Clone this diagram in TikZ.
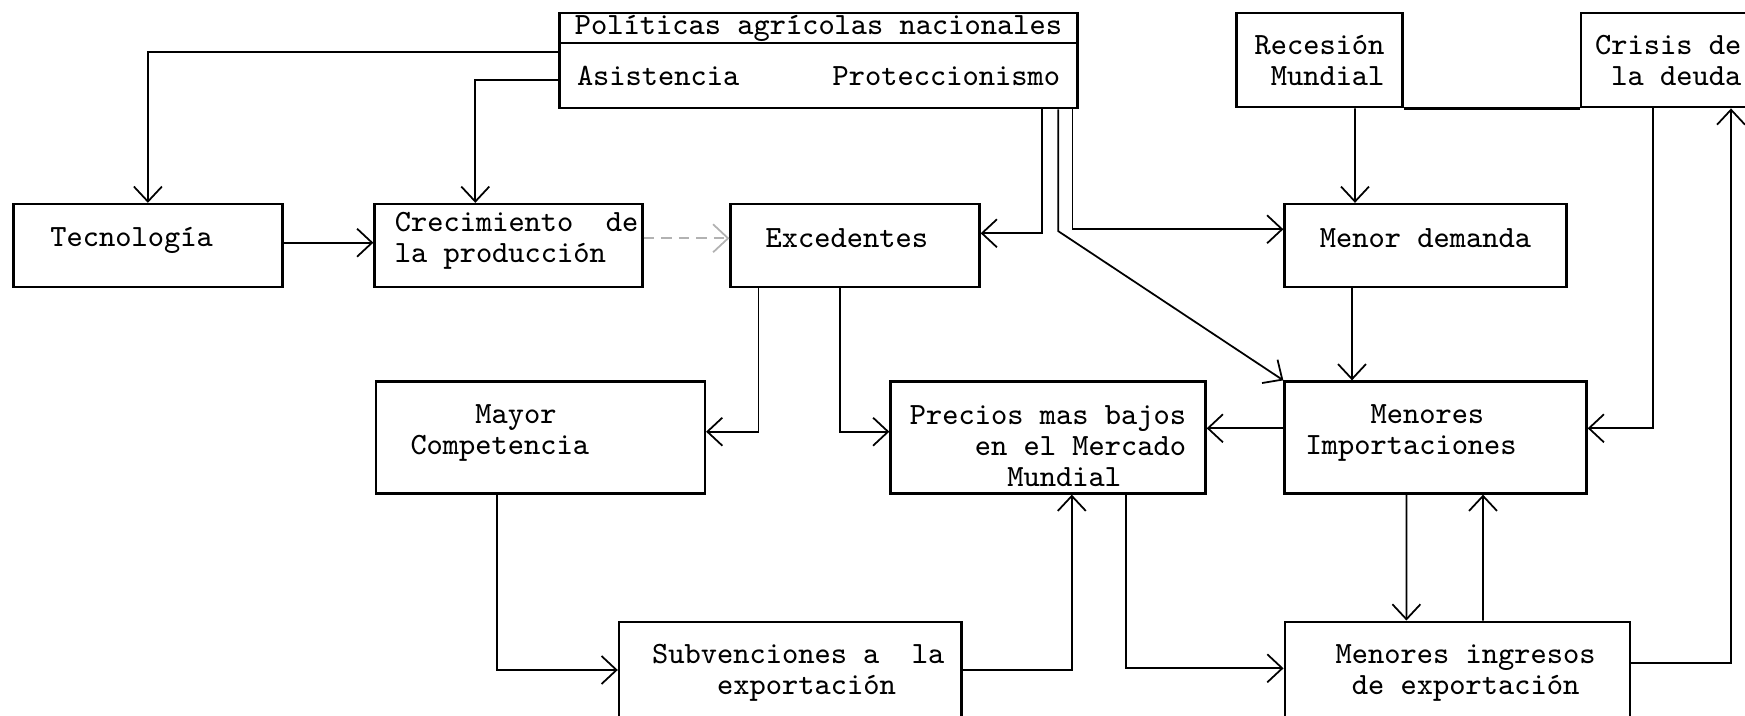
\documentclass[tikz,border=0pt]{standalone}
\usetikzlibrary{arrows.meta}

\begin{document}
\begin{tikzpicture}[
    x=0.1mm, y=-0.1mm,
    font=\ttfamily\fontsize{8.8}{8.8}\selectfont,
    box/.style={rectangle,draw,line width=0.65pt,inner sep=0pt},
    arr/.style={line width=0.5pt,-{Straight Barb[length=1.5mm,width=2.8mm]}},
    faint/.style={arr,draw=gray!60,densely dashed},
]
\useasboundingbox (0,0) rectangle (1745,716);
\clip (0,0) rectangle (1745,716);

% top row
\node[box,minimum width=51.8mm,minimum height=3mm] (pol) at (818.5,28.3) {Políticas agrícolas nacionales};
\node[box,minimum width=51.8mm,minimum height=6.5mm,text width=48.3mm] (inst) at (818.5,75.8) {Asistencia\hfill Proteccionismo};
\node[box,minimum width=16.6mm,minimum height=9.4mm,align=left] (rec) at (1319.5,60.3) {Recesión\\\hphantom{x}Mundial};
\node[box,minimum width=17.5mm,minimum height=9.4mm,align=left] (cri) at (1668.2,60.3) {Crisis de\\\hphantom{x}la deuda};

% second row
\node[box,minimum width=26.9mm,minimum height=8.3mm,text depth=5.1pt] (tec) at (147.9,245.5) {Tecnología\hphantom{xx}};
\node[box,minimum width=26.8mm,minimum height=8.3mm,align=left,text depth=4.4pt] (cre) at (508.5,245.5) {\hphantom{x}Crecimiento\ \ de\\\hphantom{x}la producción};
\node[box,minimum width=24.9mm,minimum height=8.3mm,text depth=4.3pt] (exc) at (855,245.5) {Excedentes\hphantom{x}};
\node[box,minimum width=28.2mm,minimum height=8.3mm,text depth=4.3pt] (dem) at (1425.5,245.5) {Menor demanda};

% third row
\node[box,minimum width=32.9mm,minimum height=11.2mm,align=left,text depth=4.7pt] (may) at (540.4,437.5) {\hphantom{xxxx}Mayor\\Competencia\hphantom{xxxxx}};
\node[box,minimum width=31.5mm,minimum height=11.2mm,align=left,text height=27.7pt] (pre) at (1048,437.5) {Precios mas bajos\\\hphantom{xxxx}en el Mercado\\\hphantom{xxxxxx}Mundial};
\node[box,minimum width=30.2mm,minimum height=11.2mm,align=left,text depth=4.7pt] (imp) at (1435.5,437.5) {\hphantom{xxxx}Menores\\Importaciones\hphantom{xxx}};

% bottom row
\node[box,minimum width=34.25mm,minimum height=11.2mm,align=center,text depth=4.7pt] (sub) at (790.2,677.7) {\hphantom{x}Subvenciones a\ \ la\\\hphantom{xx}exportación};
\node[box,minimum width=34.56mm,minimum height=11.2mm,align=center,text depth=4.7pt] (ing) at (1457.5,677.7) {\hphantom{x}Menores ingresos\\\hphantom{x}de exportación};

% connectors
\draw[arr] ([yshift=2.41mm]inst.west) -| (tec.north);
\draw[arr] ([yshift=-0.42mm]inst.west) -| ([xshift=-3.32mm]cre.north);
\draw[arr] ([yshift=0.28mm]tec.east) -- ([yshift=0.28mm]cre.west);
\draw[faint] ([yshift=0.72mm]cre.east) -- ([yshift=0.72mm]exc.west);
\draw[arr] ([xshift=22.33mm]inst.south) |- ([yshift=1.22mm]exc.east);
\draw[arr] ([xshift=23.97mm]inst.south) -- ++(0,-12.17mm) -- (imp.north west);
\draw[arr] ([xshift=25.39mm]inst.south) |- ([yshift=1.62mm]dem.west);
\draw[line width=0.65pt] (rec.south east) -- (cri.south west);
\draw[arr] ([xshift=3.55mm]rec.south) -- ([xshift=-7.05mm]dem.north);
\draw[arr] ([xshift=-7.35mm]dem.south) -- ([xshift=-8.35mm]imp.north);
\draw[arr] ([xshift=-1.54mm]cri.south) |- ([yshift=0.92mm]imp.east);
\draw[arr] ([yshift=1.44mm]ing.east) -| ([xshift=6.28mm]cri.south);
\draw[arr] ([xshift=-9.64mm]exc.south) |- ([yshift=0.58mm]may.east);
\draw[arr] ([xshift=-1.5mm]exc.south) |- ([yshift=0.58mm]pre.west);
\draw[arr] ([yshift=0.92mm]imp.west) -- ([yshift=0.92mm]pre.east);
\draw[arr] ([xshift=-4.37mm]may.south) |- ([yshift=0.77mm]sub.west);
\draw[arr] ([yshift=0.77mm]sub.east) -| ([xshift=2.38mm]pre.south);
\draw[arr] ([xshift=7.8mm]pre.south) |- ([yshift=0.94mm]ing.west);
\draw[arr] ([xshift=-2.91mm]imp.south) -- ([xshift=-5.11mm]ing.north);
\draw[arr] ([xshift=2.55mm]ing.north) -- ([xshift=4.75mm]imp.south);
\end{tikzpicture}
\end{document}
